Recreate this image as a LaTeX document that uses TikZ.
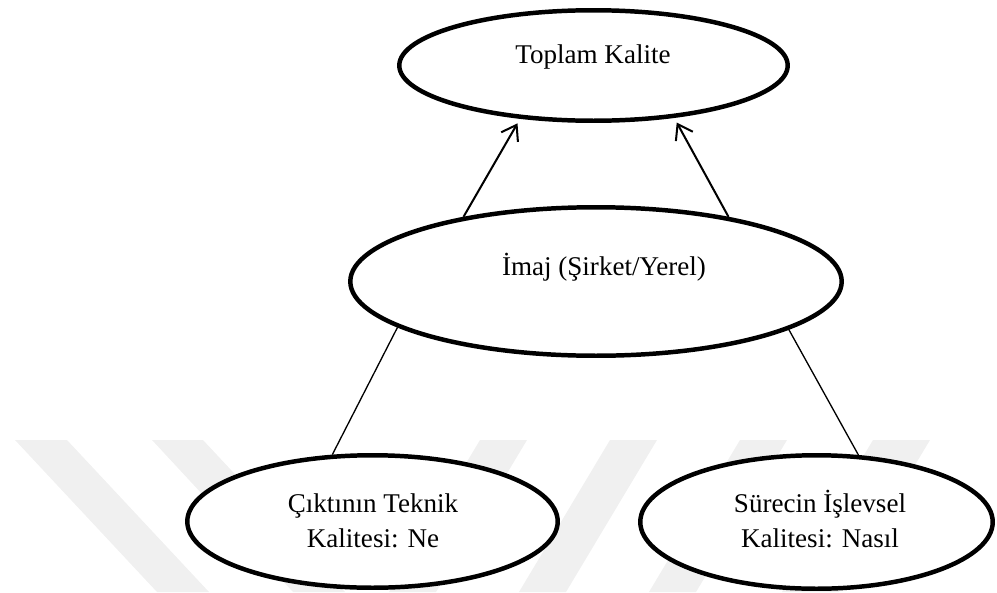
\documentclass[tikz,border=0pt]{standalone}
\usepackage{fontspec}
\setmainfont{Liberation Serif}
\usetikzlibrary{arrows.meta,shapes.geometric}
\begin{document}
\begin{tikzpicture}[x=0.02cm,y=-0.02cm,
  bubble/.style={draw=black, fill=white, ellipse, line width=2.55pt, inner sep=0pt},
  caption/.style={font=\fontsize{15.4}{19.8}\selectfont, align=center, inner sep=0pt, anchor=base},
  link/.style={line width=1.15pt},
  thinlink/.style={line width=0.75pt},
  uparrow/.style={link, -{Straight Barb[length=8pt,width=11pt]}, shorten >=3pt},
  wmark/.style={fill=black!6, draw=none}]
  \useasboundingbox (0,0) rectangle (997,592);

  % faint background stripes
  \fill[wmark] (15,440) -- (67,440) -- (209,592) -- (157,592) -- cycle;
  \fill[wmark] (152,440) -- (203,440) -- (345,592) -- (293,592) -- cycle;
  \fill[wmark] (480,440) -- (527,440) -- (436,592) -- (389,592) -- cycle;
  \fill[wmark] (610,440) -- (657,440) -- (566,592) -- (519,592) -- cycle;
  \fill[wmark] (740,440) -- (787,440) -- (696,592) -- (649,592) -- cycle;
  \fill[wmark] (873,440) -- (930,440) -- (839,592) -- (782,592) -- cycle;

  % ellipses
  \node[bubble, minimum width=7.77cm, minimum height=2.21cm] (toplam) at (593.5,65.5) {};
  \node[bubble, minimum width=9.83cm, minimum height=2.97cm] (imaj) at (596,281.5) {};
  \node[bubble, minimum width=7.41cm, minimum height=2.65cm] (cikti) at (372.5,521.5) {};
  \node[bubble, minimum width=7.05cm, minimum height=2.67cm] (surec) at (816.5,522) {};

  % labels (two-line labels sit on the baseline of their last line)
  \node[caption] (ltoplam) at (593,63) {Toplam Kalite};
  \node[caption] (limaj) at (604,275) {İmaj (Şirket/Yerel)};
  \node[caption] (lcikti) at (373,547) {Çıktının Teknik\\Kalitesi: Ne};
  \node[caption] (lsurec) at (820,547) {Sürecin İşlevsel\\Kalitesi: Nasıl};

  % connectors
  \draw[uparrow] (imaj.154) -- (toplam.216.4);
  \draw[uparrow] (imaj.26) -- (toplam.327);
  \draw[thinlink] (imaj.193.5) -- (cikti.121.2);
  \draw[thinlink] (imaj.346.2) -- (surec.58.3);
\end{tikzpicture}
\end{document}
